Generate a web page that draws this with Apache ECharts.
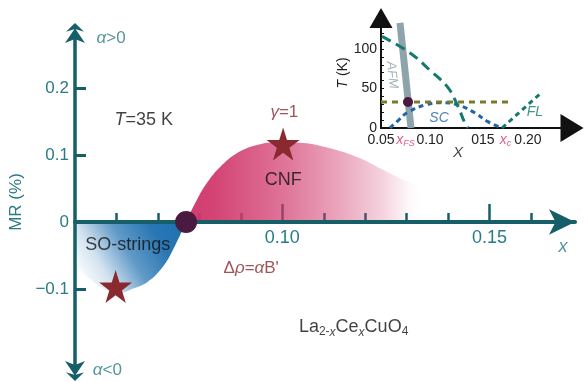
<!DOCTYPE html>
<html><head><meta charset="utf-8">
<script src="https://cdn.jsdelivr.net/npm/echarts@6/dist/echarts.min.js"></script>
<style>html,body{margin:0;padding:0;background:#fff}#c{width:588px;height:382px}</style>
</head><body><div id="c"></div>
<script>
// ---------- main panel ----------
const xMajorTicks = [0.10, 0.15];
const xMajorLabels = ['0.10', '0.15'];
const xMinorTicks = [0.06, 0.07, 0.08, 0.09, 0.11, 0.12, 0.13, 0.14, 0.16];
const yTickValues = [-0.1, 0.1, 0.2];
const yLabelValues = [-0.1, 0, 0.1, 0.2];
const yLabels = ['\u22120.1', '0', '0.1', '0.2'];

const cnfX = [0.0768, 0.0794, 0.0818, 0.0850, 0.0891, 0.0939, 0.0994, 0.1050, 0.1115, 0.1180, 0.1243, 0.1291, 0.1332, 0.1361, 0.1376];
const cnfY = [0, 0.033, 0.058, 0.082, 0.103, 0.115, 0.119, 0.118, 0.110, 0.097, 0.078, 0.063, 0.052, 0.033, 0];
const soX = [0.05, 0.0561, 0.0609, 0.0633, 0.0674, 0.0712, 0.0736, 0.0768];
const soY = [-0.064, -0.097, -0.106, -0.101, -0.090, -0.067, -0.042, 0];
const starX = [0.0598, 0.1002];
const starY = [-0.0963, 0.1164];
const crossX = [0.0768];
const crossY = [0];

const noteText = ['α>0', 'α<0', 'T=35 K', 'γ=1', 'CNF', 'SO-strings', 'Δρ=αB\'', 'La2-xCexCuO4', 'x'];
const noteX = [0.0552, 0.0543, 0.0666, 0.1005, 0.1002, 0.0627, 0.0925, 0.1172, 0.1677];
const noteY = [0.2746, -0.2209, 0.152, 0.164, 0.0627, -0.0343, -0.0687, -0.157, -0.0373];

// ---------- inset ----------
const insetXLabelValues = [0.05, 0.075, 0.10, 0.154, 0.177, 0.20];
const insetXLabels = ['0.05', 'xFS', '0.10', '015', 'xc', '0.20'];
const insetYLabelValues = [0, 50, 100];
const insetYTickValues = [0, 10, 20, 30, 40, 50, 60, 70, 80, 90, 100, 110, 120, 130];
const afmX = [0.0694, 0.0806];
const afmT = [133, 0];
const pgX = [0.051, 0.0796, 0.100, 0.1184, 0.1286, 0.1357, 0.1388];
const pgT = [116, 95, 73, 51, 27, 6, 0];
const probeX = [0.05, 0.1796];
const probeT = [33, 33];
const scX = [0.0592, 0.068, 0.0776, 0.0949, 0.112, 0.1286, 0.146, 0.159, 0.1735];
const scT = [0, 10, 20, 29, 32, 29, 19, 8, 0];
const flX = [0.1735, 0.2122];
const flT = [0, 43];
const fsDotX = [0.0776];
const fsDotT = [33];
const insetNoteText = ['SC', 'FL', 'AFM', 'X'];
const insetNoteX = [0.1092, 0.2071, 0.0612, 0.1286];
const insetNoteT = [12.7, 20, 67, -31.6];

// ---------- styling ----------
const F = '"Liberation Sans", Arial, Helvetica, sans-serif';
const axisTeal = '#165f69';
const labelTeal = '#2b7b85';
const starRed = '#8a2a2f';
const dotColor = '#4b1a40';
const pinkLbl = '#e0608f';
const insetTeal = '#157a6e';
const scBlue = '#2165a5';
const afmGrey = '#8ea4ac';

function rich(size, color) {
  const sub = Math.round(size * 0.68);
  const lh = size + 4;
  const subLh = Math.round(size * 0.62);
  return {
    n: {fontFamily: F, fontSize: size, color: color, lineHeight: lh},
    i: {fontFamily: F, fontSize: size, color: color, fontStyle: 'italic', lineHeight: lh},
    s: {fontFamily: F, fontSize: sub, color: color, verticalAlign: 'bottom', lineHeight: subLh},
    si: {fontFamily: F, fontSize: sub, color: color, fontStyle: 'italic', verticalAlign: 'bottom', lineHeight: subLh}
  };
}
const richFmt = {
  'α>0': '{i|α}{n|>0}',
  'α<0': '{i|α}{n|<0}',
  'T=35 K': '{i|T}{n|=35 K}',
  'γ=1': '{i|γ}{n|=1}',
  'CNF': '{n|CNF}',
  'SO-strings': '{n|SO-strings}',
  'Δρ=αB\'': '{n|Δ}{i|ρ}{n|=}{i|α}{n|B\'}',
  'La2-xCexCuO4': '{n|La}{s|2-}{si|x}{n|Ce}{si|x}{n|CuO}{s|4}',
  'x': '{i|x}',
  'SC': '{i|SC}', 'FL': '{i|FL}', 'AFM': '{i|AFM}', 'X': '{i|X}',
  'xFS': '{i|x}{si|FS}', 'xc': '{i|x}{si|c}'
};
const noteStyle = {
  'α>0': [17, labelTeal, 'left'], 'α<0': [17, labelTeal, 'left'],
  'T=35 K': [18, '#111', 'center'], 'γ=1': [17, starRed, 'center'],
  'CNF': [18, '#111', 'center'], 'SO-strings': [18, '#111', 'center'],
  'Δρ=αB\'': [17, starRed, 'center'], 'La2-xCexCuO4': [18, '#111', 'center'],
  'x': [18, labelTeal, 'center'],
  'SC': [14, scBlue, 'center'], 'FL': [14, insetTeal, 'center'],
  'AFM': [13, afmGrey, 'center'], 'X': [15, '#111', 'center']
};
function noteItems(texts, xs, ys) {
  return texts.map((t, i) => {
    const st = noteStyle[t];
    return {
      value: [xs[i], ys[i]],
      label: {
        show: true,
        position: st[2] === 'left' ? 'right' : 'inside',
        distance: 0,
        formatter: richFmt[t],
        rotate: t === 'AFM' ? -84 : 0,
        rich: rich(st[0], st[1])
      }
    };
  });
}
const zip = (a, b) => a.map((v, i) => [v, b[i]]);

const pinkGrad = new echarts.graphic.LinearGradient(0, 0, 1, 0, [
  {offset: 0, color: 'rgba(208,53,106,0.97)'},
  {offset: 0.12, color: 'rgba(208,53,106,0.92)'},
  {offset: 0.4, color: 'rgba(208,53,106,0.68)'},
  {offset: 0.6, color: 'rgba(208,53,106,0.45)'},
  {offset: 0.78, color: 'rgba(208,53,106,0.22)'},
  {offset: 0.88, color: 'rgba(208,53,106,0.04)'},
  {offset: 0.93, color: 'rgba(208,53,106,0)'},
  {offset: 1, color: 'rgba(208,53,106,0)'}
]);
const blueGrad = new echarts.graphic.LinearGradient(1, 0, 0.072, 0.87, [
  {offset: 0, color: 'rgba(30,111,176,1)'},
  {offset: 0.27, color: 'rgba(30,111,176,0.95)'},
  {offset: 0.54, color: 'rgba(30,111,176,0.7)'},
  {offset: 0.79, color: 'rgba(30,111,176,0.2)'},
  {offset: 1, color: 'rgba(30,111,176,0)'}
]);
const starPath = 'path://M50,0 L61.2,34.5 L97.6,34.5 L68.2,55.9 L79.4,90.5 L50,69.1 L20.6,90.5 L31.8,55.9 L2.4,34.5 L38.8,34.5 Z';
const dblArrow = 'path://M50,0 L95,44 L50,30 L5,44 Z M50,26 L100,100 L50,80 L0,100 Z';

const MAIN_XMIN = 0.05, MAIN_XMAX = 0.1706, MAIN_YMIN = -0.2224, MAIN_YMAX = 0.282;
const IN_XMIN = 0.05, IN_XMAX = 0.2449, IN_YMIN = 0, IN_YMAX = 139.2;

// grid 2 ends exactly at MR = 0 of grid 0
const G0_TOP = 33, G0_H = 338;
const zeroPx = G0_TOP + G0_H * MAIN_YMAX / (MAIN_YMAX - MAIN_YMIN);

const chart = echarts.init(document.getElementById('c'), null, {renderer: 'canvas'});
const xBase = {type: 'value', gridIndex: 2, position: 'bottom', min: MAIN_XMIN, max: MAIN_XMAX, splitLine: {show: false}};
chart.setOption({
  animation: false,
  backgroundColor: '#fff',
  grid: [
    {left: 75, top: G0_TOP, width: 500, height: G0_H, outerBoundsMode: 'none', containLabel: false},
    {left: 381, top: 18, width: 191, height: 110, outerBoundsMode: 'none', containLabel: false},
    {left: 75, top: G0_TOP, width: 500, height: zeroPx - G0_TOP, outerBoundsMode: 'none', containLabel: false}
  ],
  xAxis: [
    {type: 'value', gridIndex: 0, min: MAIN_XMIN, max: MAIN_XMAX, show: false},
    Object.assign({}, xBase, { // axis line + labels
      z: 3,
      axisLine: {show: true, onZero: false, symbol: ['none', 'arrow'], symbolSize: [19, 26],
        lineStyle: {color: axisTeal, width: 4}},
      axisTick: {show: false},
      axisLabel: {customValues: xMajorTicks, margin: 7, color: labelTeal, fontSize: 18, fontFamily: F,
        formatter: v => xMajorLabels[xMajorTicks.findIndex(t => Math.abs(t - v) < 1e-6)] || ''}
    }),
    Object.assign({}, xBase, { // major ticks
      z: 0,
      axisLine: {show: false, onZero: false},
      axisTick: {show: true, customValues: xMajorTicks, inside: true, length: 18, lineStyle: {color: axisTeal, width: 2.5}},
      axisLabel: {show: false}
    }),
    Object.assign({}, xBase, { // minor ticks
      z: 0,
      axisLine: {show: false, onZero: false},
      axisTick: {show: true, customValues: xMinorTicks, inside: true, length: 9, lineStyle: {color: axisTeal, width: 2.5}},
      axisLabel: {show: false}
    }),
    { // inset
      type: 'value', gridIndex: 1, position: 'bottom', min: IN_XMIN, max: IN_XMAX,
      axisLine: {show: true, onZero: false, symbol: ['none', 'triangle'], symbolSize: [28, 23],
        lineStyle: {color: '#111', width: 2}},
      axisTick: {show: false}, splitLine: {show: false},
      axisLabel: {customValues: insetXLabelValues, margin: 4, color: '#222', fontSize: 14, fontFamily: F,
        formatter: v => { const i = insetXLabelValues.findIndex(t => Math.abs(t - v) < 1e-6); const s = insetXLabels[i] || '';
          return richFmt[s] ? richFmt[s].replace(/\{(i|si)\|/g, '{p$1|') : '{d|' + s + '}'; },
        rich: {
          d: {fontFamily: F, fontSize: 14, color: '#222', lineHeight: 16},
          pi: {fontFamily: F, fontSize: 14, color: pinkLbl, fontStyle: 'italic', lineHeight: 16},
          psi: {fontFamily: F, fontSize: 9, color: pinkLbl, fontStyle: 'italic', verticalAlign: 'bottom', lineHeight: 8}
        }}
    }
  ],
  yAxis: [
    {
      type: 'value', gridIndex: 0, position: 'left', min: MAIN_YMIN, max: MAIN_YMAX, z: 3,
      axisLine: {show: true, onZero: false, symbol: [dblArrow, dblArrow], symbolSize: [20, 24],
        lineStyle: {color: axisTeal, width: 3.5}},
      axisTick: {show: true, customValues: yTickValues, inside: true, length: 11, lineStyle: {color: axisTeal, width: 3}},
      splitLine: {show: false},
      axisLabel: {customValues: yLabelValues, margin: 6, color: labelTeal, fontSize: 17, fontFamily: F,
        formatter: v => yLabels[yLabelValues.findIndex(t => Math.abs(t - v) < 1e-6)] || ''},
      name: 'MR (%)', nameLocation: 'middle', nameRotate: 90, nameGap: 36,
      nameTextStyle: {color: labelTeal, fontSize: 17, fontFamily: F}
    },
    {
      type: 'value', gridIndex: 1, position: 'left', min: IN_YMIN, max: IN_YMAX,
      axisLine: {show: true, onZero: false, symbol: ['none', 'triangle'], symbolSize: [23, 20],
        lineStyle: {color: '#111', width: 2}},
      axisTick: {show: true, customValues: insetYTickValues, inside: true, length: 3, lineStyle: {color: '#111', width: 1}},
      splitLine: {show: false},
      axisLabel: {customValues: insetYLabelValues, margin: 4, color: '#222', fontSize: 14, fontFamily: F},
      name: '{i|T}{n| (K)}', nameLocation: 'middle', nameRotate: 90, nameGap: 26,
      nameTextStyle: {rich: rich(14, '#222')}
    },
    {type: 'value', gridIndex: 2, min: 0, max: 1, show: false}
  ],
  series: [
    {type: 'line', xAxisIndex: 0, yAxisIndex: 0, data: zip(cnfX, cnfY), smooth: 0.4, symbol: 'none',
      lineStyle: {width: 0}, areaStyle: {color: pinkGrad, opacity: 1}, z: 2, silent: true},
    {type: 'line', xAxisIndex: 0, yAxisIndex: 0, data: zip(soX, soY), smooth: 0.4, symbol: 'none',
      lineStyle: {width: 0}, areaStyle: {color: blueGrad, opacity: 1}, z: 2, silent: true},
    {type: 'scatter', xAxisIndex: 0, yAxisIndex: 0, data: zip(starX, starY), symbol: starPath, symbolSize: 33,
      itemStyle: {color: starRed, opacity: 1}, z: 4, silent: true},
    {type: 'scatter', xAxisIndex: 0, yAxisIndex: 0, data: zip(crossX, crossY), symbol: 'circle', symbolSize: 22,
      itemStyle: {color: dotColor, opacity: 1}, z: 5, silent: true},
    {type: 'scatter', xAxisIndex: 0, yAxisIndex: 0, data: noteItems(noteText, noteX, noteY), symbolSize: 0,
      clip: false, z: 6, silent: true},

    {type: 'line', xAxisIndex: 4, yAxisIndex: 1, data: zip(afmX, afmT), symbol: 'none',
      lineStyle: {color: afmGrey, width: 7, cap: 'butt'}, z: 2, silent: true},
    {type: 'line', xAxisIndex: 4, yAxisIndex: 1, data: zip(scX, scT), smooth: 0.5, symbol: 'none',
      lineStyle: {color: scBlue, width: 3, type: [5, 4]}, z: 3, silent: true},
    {type: 'line', xAxisIndex: 4, yAxisIndex: 1, data: zip(flX, flT), symbol: 'none',
      lineStyle: {color: insetTeal, width: 3, type: [5, 4]}, z: 3, silent: true},
    {type: 'line', xAxisIndex: 4, yAxisIndex: 1, data: zip(probeX, probeT), symbol: 'none',
      lineStyle: {color: '#7b7a2c', width: 3, type: [6, 5]}, z: 3, silent: true},
    {type: 'line', xAxisIndex: 4, yAxisIndex: 1, data: zip(pgX, pgT), smooth: 0.4, symbol: 'none',
      lineStyle: {color: insetTeal, width: 3, type: [10, 6]}, z: 4, silent: true},
    {type: 'scatter', xAxisIndex: 4, yAxisIndex: 1, data: zip(fsDotX, fsDotT), symbol: 'circle', symbolSize: 10,
      itemStyle: {color: dotColor, opacity: 1}, z: 5, silent: true},
    {type: 'scatter', xAxisIndex: 4, yAxisIndex: 1, data: noteItems(insetNoteText, insetNoteX, insetNoteT), symbolSize: 0,
      clip: false, z: 6, silent: true}
  ]
});
</script></body></html>
